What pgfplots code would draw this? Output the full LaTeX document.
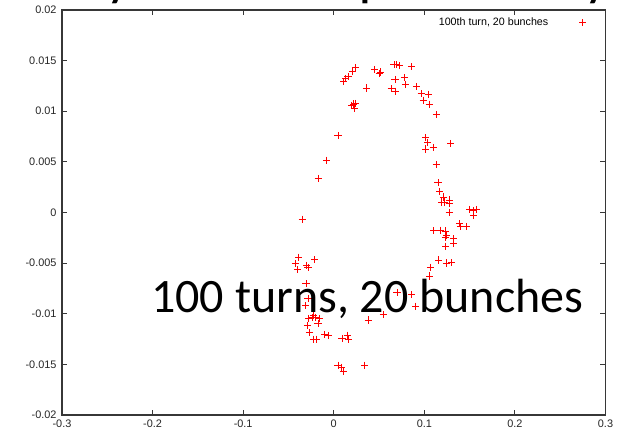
\documentclass[border=0pt]{standalone}
\usepackage{fontspec}
\usepackage{pgfplots}
\pgfplotsset{compat=1.18}
\setmainfont{Liberation Sans}
\newfontfamily\calibri{Carlito}
\definecolor{gpred}{RGB}{255,0,0}
\definecolor{axcol}{RGB}{55,55,55}

\pgfplotstableread{
x y
0.0110 0.01291
0.0133 0.01324
0.0158 0.01344
0.0207 0.01390
0.0239 0.01430
0.0450 0.01413
0.0501 0.01371
0.0519 0.01388
0.0666 0.01459
0.0694 0.01459
0.0722 0.01453
0.0859 0.01438
0.0361 0.01230
0.0676 0.01314
0.0785 0.01332
0.0792 0.01267
0.0635 0.01222
0.0685 0.01198
0.0914 0.01243
0.0965 0.01173
0.1042 0.01169
0.0987 0.01109
0.1053 0.01069
0.0199 0.01057
0.0221 0.01072
0.0243 0.01077
0.0232 0.01033
0.1135 0.00966
0.0046 0.00761
-0.0081 0.00517
-0.0171 0.00336
-0.0348 -0.00066
0.1017 0.00738
0.1039 0.00695
0.1097 0.00642
0.1017 0.00627
0.1290 0.00682
0.1130 0.00471
0.1152 0.00293
0.1171 0.00207
0.1210 0.00153
0.1193 0.00104
0.1227 0.00104
0.1282 0.00124
0.1276 0.00089
0.1274 0.00000
0.1503 0.00030
0.1539 0.00017
0.1577 0.00030
0.1547 -0.00025
0.1392 -0.00112
0.1400 -0.00141
0.1466 -0.00138
0.1105 -0.00181
0.1175 -0.00175
0.1233 -0.00183
0.1245 -0.00227
0.1238 -0.00247
0.1318 -0.00260
0.1326 -0.00301
0.1238 -0.00333
0.1160 -0.00469
0.1245 -0.00499
0.1304 -0.00497
0.1068 -0.00540
0.1061 -0.00628
0.0699 -0.00793
0.0862 -0.00813
0.0906 -0.00926
0.0545 -0.01011
0.0381 -0.01062
-0.0387 -0.00442
-0.0423 -0.00507
-0.0401 -0.00566
-0.0298 -0.00521
-0.0284 -0.00546
-0.0210 -0.00467
-0.0306 -0.00705
-0.0284 -0.00850
-0.0313 -0.00922
-0.0240 -0.01040
-0.0276 -0.01047
-0.0202 -0.01035
-0.0158 -0.01047
-0.0224 -0.01021
-0.0291 -0.01120
-0.0173 -0.01100
-0.0269 -0.01186
-0.0224 -0.01252
-0.0188 -0.01252
-0.0099 -0.01205
-0.0055 -0.01218
0.0092 -0.01245
0.0151 -0.01212
0.0166 -0.01252
0.0048 -0.01509
0.0085 -0.01529
0.0107 -0.01574
0.0343 -0.01509
}\turns

\begin{document}
\begin{tikzpicture}[x=1pt,y=1pt]
\begin{axis}[
  at={(62pt,23pt)}, anchor=south west,
  scale only axis, width=543.5pt, height=405pt,
  xmin=-0.3, xmax=0.3, ymin=-0.02, ymax=0.02,
  xtick={-0.3,-0.2,-0.1,0,0.1,0.2,0.3},
  xticklabels={-0.3,-0.2,-0.1,0,0.1,0.2,0.3},
  ytick={-0.02,-0.015,-0.01,-0.005,0,0.005,0.01,0.015,0.02},
  yticklabels={-0.02,-0.015,-0.01,-0.005,0,0.005,0.01,0.015,0.02},
  xtick pos=both, ytick pos=both,
  xticklabel pos=lower, yticklabel pos=left,
  tick align=inside, major tick length=5pt,
  tick style={axcol, line width=0.9pt},
  axis line style={axcol, line width=1.2pt},
  ticklabel style={font=\fontsize{10.9}{12}\selectfont, text=black!85},
  yticklabel style={xshift=-2pt},
  xticklabel style={yshift=-1pt},
  legend plot pos=right,
  legend cell align=right,
  legend image code/.code={\path (0pt,0pt) (34pt,0pt); \draw[#1] plot coordinates {(32pt,0pt)};},
  legend style={draw=none, fill=none, font=\fontsize{10.7}{12}\selectfont,
    at={(1,1)}, anchor=north east, xshift=-16pt, yshift=-4pt},
]
\addplot[only marks, mark=+, mark size=3.6pt, color=gpred, line width=0.8pt] table[x=x,y=y] {\turns};
\addlegendentry{100th turn, 20 bunches}
\end{axis}
\node[anchor=base west, inner sep=0pt] at (151pt,125pt) {\calibri\fontsize{48}{52}\selectfont 100 turns, 20 bunches};
\begin{scope}
\clip (0,431) rectangle (633,438);
\node[anchor=base west, inner sep=0pt] at (108pt,440.6pt) {\calibri\bfseries\fontsize{40}{44}\selectfont y};
\node[anchor=base west, inner sep=0pt] at (360pt,440.6pt) {\calibri\bfseries\fontsize{40}{44}\selectfont p};
\node[anchor=base west, inner sep=0pt] at (586pt,440.6pt) {\calibri\bfseries\fontsize{40}{44}\selectfont y};
\end{scope}
\pgfresetboundingbox
\path[use as bounding box] (0,0) rectangle (633,438);
\end{tikzpicture}
\end{document}
